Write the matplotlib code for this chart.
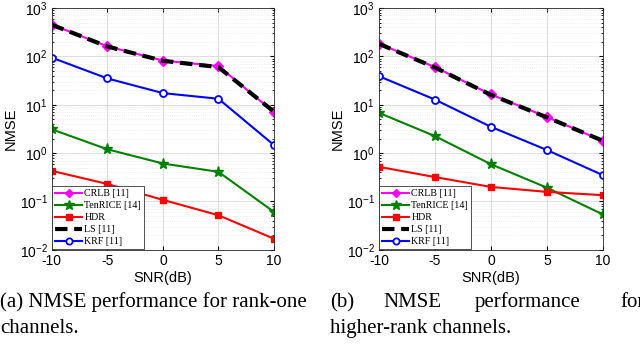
import numpy as np
import matplotlib.pyplot as plt
from matplotlib.ticker import LogLocator, NullFormatter

snr = [-10, -5, 0, 5, 10]

# rank-one channels
crlb_a = [453, 161, 82, 63, 7.0]
ten_a = [3.1, 1.2, 0.61, 0.41, 0.061]
hdr_a = [0.43, 0.23, 0.108, 0.052, 0.017]
ls_a = [450, 160, 81, 60, 7.2]
krf_a = [94, 35, 17.4, 13.3, 1.47]

# higher-rank channels
crlb_b = [184, 60, 16.3, 5.6, 1.78]
ten_b = [6.8, 2.25, 0.59, 0.193, 0.054]
hdr_b = [0.52, 0.32, 0.20, 0.158, 0.135]
ls_b = [182, 59, 16.0, 5.5, 1.8]
krf_b = [39, 12.8, 3.5, 1.16, 0.35]

labels = ['CRLB [11]', 'TenRICE [14]', 'HDR', 'LS [11]', 'KRF [11]']

plt.rcParams['font.family'] = ['Liberation Sans', 'DejaVu Sans']
plt.rcParams['mathtext.fontset'] = 'custom'
plt.rcParams['mathtext.rm'] = 'Liberation Sans'

fig = plt.figure(figsize=(6.4, 3.48), dpi=100)
ax1 = fig.add_axes([0.081, 0.282, 0.347, 0.695])
ax2 = fig.add_axes([0.592, 0.282, 0.350, 0.695])

def panel(ax, crlb, ten, hdr, ls, krf):
    ax.plot(snr, crlb, color='#ff00ff', marker='D', ms=5, lw=1.5, label=labels[0])
    ax.plot(snr, ten, color='#008000', marker='*', ms=8, lw=1.5, label=labels[1])
    ax.plot(snr, hdr, color='#ff0000', marker='s', ms=5, lw=1.5, label=labels[2])
    ax.plot(snr, ls, color='black', ls=(0, (3, 1.6)), lw=3, label=labels[3])
    ax.plot(snr, krf, color='#0000ff', marker='o', ms=5, mfc='white', mew=1.3, lw=1.5, label=labels[4])
    ax.set_yscale('log')
    ax.set_xlim(-10, 10)
    ax.set_ylim(1e-2, 1e3)
    ax.set_xticks(snr)
    ax.set_xticklabels(['-10', '-5', '0', '5', '10'])
    ax.yaxis.set_major_locator(LogLocator(base=10, numticks=10))
    ax.yaxis.set_minor_locator(LogLocator(base=10, subs=np.arange(2, 10), numticks=10))
    ax.yaxis.set_minor_formatter(NullFormatter())
    ax.grid(True, which='major', color='#d8d8d8', lw=0.6)
    ax.grid(True, which='minor', color='#e4e4e4', lw=0.5, ls=':')
    ax.tick_params(labelsize=10, direction='in', length=3, top=True, right=True, pad=3)
    ax.tick_params(which='minor', direction='in', length=1.5, top=True, right=True)
    for s in ax.spines.values():
        s.set_linewidth(0.6)
        s.set_color('#262626')
    ax.set_xlabel('SNR(dB)', fontsize=10.5, labelpad=2)
    ax.set_ylabel('NMSE', fontsize=10.5, labelpad=1)
    leg = ax.legend(loc='lower left', bbox_to_anchor=(0.0, 0.0), fancybox=False,
                    edgecolor='#333333', framealpha=1, borderaxespad=0.05,
                    prop={'family': 'Liberation Serif', 'size': 7.2},
                    handlelength=2.7, labelspacing=0.3, handletextpad=0.2,
                    borderpad=0.3, markerscale=0.9)
    leg.get_frame().set_linewidth(0.6)

panel(ax1, crlb_a, ten_a, hdr_a, ls_a, krf_a)
panel(ax2, crlb_b, ten_b, hdr_b, ls_b, krf_b)

cap = dict(family='Liberation Serif', fontsize=15, va='baseline')
fig.text(0.0, 1 - 307 / 348, '(a) NMSE performance for rank-one', ha='left', **cap)
fig.text(0.0, 1 - 333 / 348, 'channels.', ha='left', **cap)
fig.text(330 / 640, 1 - 307 / 348, '(b)', ha='left', **cap)
fig.text(383 / 640, 1 - 307 / 348, 'NMSE', ha='left', **cap)
fig.text(475 / 640, 1 - 307 / 348, 'performance', ha='left', **cap)
fig.text(620 / 640, 1 - 307 / 348, 'for', ha='left', **cap)
fig.text(330 / 640, 1 - 333 / 348, 'higher-rank channels.', ha='left', **cap)

fig.savefig('out.png', dpi=100)
